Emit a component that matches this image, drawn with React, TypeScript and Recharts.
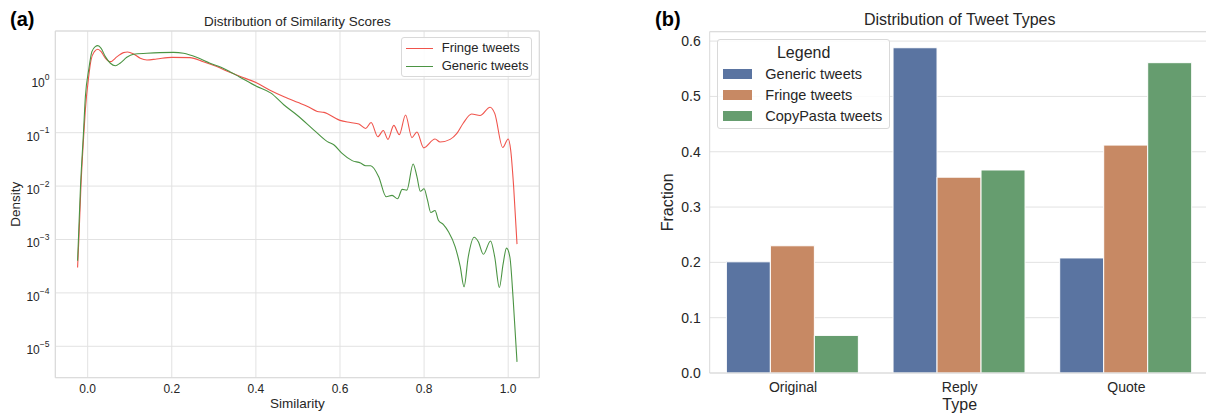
import React from "react";
import {
    LineChart,
    Line,
    BarChart,
    Bar,
    XAxis,
    YAxis,
    CartesianGrid,
    Legend,
    ReferenceLine,
} from "recharts";

const FONT = '"Liberation Sans", Arial, Helvetica, sans-serif';
const INK = "#262626";
const GRID = "#e2e2e2";
const SPINE = "#d9d9d9";

// (a) density of similarity scores
const fringeSimilarity = [
    -0.024, -0.021, -0.016, -0.009, -0.0055, 0.0024, 0.008, 0.016, 0.024, 0.032,
    0.042, 0.054, 0.07, 0.085, 0.095, 0.109, 0.125, 0.141, 0.164, 0.2,
    0.243, 0.275, 0.307, 0.338, 0.36, 0.4, 0.436, 0.467, 0.499, 0.523,
    0.546, 0.562, 0.6, 0.625, 0.645, 0.661, 0.674, 0.69, 0.703, 0.714,
    0.728, 0.741, 0.756, 0.771, 0.783, 0.799, 0.826, 0.838, 0.862, 0.878,
    0.893, 0.913, 0.933, 0.957, 0.968, 0.987, 1.0, 1.006, 1.013, 1.021,
];
const fringeDensity = [
    0.0003, 0.001, 0.01, 0.1, 0.27, 1.12, 2.3, 3.3, 3.66, 3.3,
    2.5, 2.14, 2.66, 3.16, 3.25, 2.99, 2.48, 2.3, 2.4, 2.58,
    2.55, 2.14, 1.73, 1.35, 1.15, 0.87, 0.61, 0.47, 0.37, 0.31,
    0.25, 0.24, 0.17, 0.155, 0.145, 0.12, 0.155, 0.084, 0.11, 0.075,
    0.137, 0.092, 0.215, 0.081, 0.103, 0.052, 0.076, 0.067, 0.075, 0.097,
    0.15, 0.224, 0.21, 0.3, 0.23, 0.053, 0.076, 0.047, 0.0097, 0.00082,
];

const genericSimilarity = [
    -0.024, -0.022, -0.017, -0.01, -0.0055, 0.0024, 0.01, 0.018, 0.024, 0.032,
    0.042, 0.054, 0.066, 0.077, 0.093, 0.109, 0.141, 0.172, 0.204, 0.228,
    0.259, 0.291, 0.317, 0.338, 0.36, 0.4, 0.436, 0.467, 0.499, 0.538,
    0.57, 0.586, 0.605, 0.629, 0.649, 0.661, 0.673, 0.692, 0.71, 0.724,
    0.737, 0.748, 0.759, 0.774, 0.783, 0.791, 0.8, 0.808, 0.816, 0.826,
    0.834, 0.846, 0.858, 0.874, 0.886, 0.895, 0.905, 0.919, 0.929, 0.941,
    0.958, 0.968, 0.979, 0.988, 0.996, 1.004, 1.012, 1.021,
];
const genericDensity = [
    0.0004, 0.001, 0.01, 0.1, 0.47, 1.5, 3.3, 4.1, 4.27, 3.8,
    2.66, 2.0, 1.8, 2.0, 2.58, 2.94, 3.07, 3.16, 3.2, 3.07,
    2.58, 2.0, 1.68, 1.39, 1.12, 0.75, 0.55, 0.33, 0.21, 0.112,
    0.068, 0.059, 0.041, 0.03, 0.027, 0.024, 0.024, 0.015, 0.0063, 0.0067,
    0.0058, 0.0087, 0.0084, 0.026, 0.015, 0.008, 0.0089, 0.0055, 0.0032, 0.0035,
    0.0023, 0.0019, 0.0014, 0.00073, 0.00031, 0.00013, 0.00047, 0.0011, 0.00091, 0.00053,
    0.00094, 0.00047, 0.000126, 0.00035, 0.00069, 0.00047, 0.000073, 0.0000051,
];

const similarityTicks = [0, 0.2, 0.4, 0.6, 0.8, 1.0];
const densityTicks = [1e-5, 1e-4, 1e-3, 1e-2, 1e-1, 1];
const similarityDomain = [-0.077, 1.074];
const densityDomain = [2.58e-6, 8.03];

const lineSeries = [
    { name: "Fringe tweets", color: "#f0544c" },
    { name: "Generic tweets", color: "#4b9443" },
];

// (b) tweet type fractions
const tweetTypes = ["Original", "Reply", "Quote"];
const genericFraction = [0.201, 0.588, 0.208];
const fringeFraction = [0.23, 0.354, 0.412];
const copyPastaFraction = [0.068, 0.367, 0.561];
const fractionTicks = [0, 0.1, 0.2, 0.3, 0.4, 0.5, 0.6];
const fractionMax = 0.617;

const barSeries = [
    { key: "generic", name: "Generic tweets", color: "#5a74a1" },
    { key: "fringe", name: "Fringe tweets", color: "#c78964" },
    { key: "copyPasta", name: "CopyPasta tweets", color: "#669d6f" },
];

const fringeData = fringeSimilarity.map((x, i) => ({ x, y: fringeDensity[i] }));
const genericData = genericSimilarity.map((x, i) => ({ x, y: genericDensity[i] }));

const typeRows = tweetTypes.map((type, i) => ({
    type,
    generic: genericFraction[i],
    fringe: fringeFraction[i],
    copyPasta: copyPastaFraction[i],
}));

function PowerTick({ x, y, payload }: any) {
    const exp = Math.round(Math.log10(payload.value));
    const sup = exp < 0 ? `\u2212${-exp}` : `${exp}`;
    return (
        <text x={x} y={y} textAnchor="end" fill={INK} fontSize={12} fontFamily={FONT}>
            <tspan dy={8}>10</tspan>
            <tspan dy={-7.3} fontSize={8.5}>
                {sup}
            </tspan>
        </text>
    );
}

const legendBox: React.CSSProperties = {
    position: "relative",
    boxSizing: "border-box",
    background: "rgba(255,255,255,0.85)",
    border: `1px solid ${SPINE}`,
    borderRadius: 3,
    fontFamily: FONT,
    color: INK,
    width: "100%",
    height: "100%",
};

function LineLegend() {
    return (
        <div style={legendBox}>
            {lineSeries.map((s, i) => (
                <div key={s.name}>
                    <div
                        style={{
                            position: "absolute",
                            left: 4,
                            top: 9.5 + i * 18,
                            width: 27,
                            height: 0,
                            borderTop: `1.3px solid ${s.color}`,
                        }}
                    />
                    <div
                        style={{
                            position: "absolute",
                            left: 40,
                            top: 2 + i * 18,
                            fontSize: 13,
                            lineHeight: "16px",
                            whiteSpace: "nowrap",
                        }}
                    >
                        {s.name}
                    </div>
                </div>
            ))}
        </div>
    );
}

function BarLegend() {
    return (
        <div style={legendBox}>
            <div
                style={{
                    position: "absolute",
                    left: 0,
                    width: "100%",
                    top: 3,
                    textAlign: "center",
                    fontSize: 16,
                    lineHeight: "19px",
                }}
            >
                Legend
            </div>
            {barSeries.map((s, i) => (
                <div key={s.key}>
                    <div
                        style={{
                            position: "absolute",
                            left: 5,
                            top: 28.5 + i * 21.4,
                            width: 29,
                            height: 10,
                            background: s.color,
                        }}
                    />
                    <div
                        style={{
                            position: "absolute",
                            left: 47,
                            top: 24.5 + i * 21.4,
                            fontSize: 14.5,
                            lineHeight: "18px",
                            whiteSpace: "nowrap",
                        }}
                    >
                        {s.name}
                    </div>
                </div>
            ))}
        </div>
    );
}

const panelLabel: React.CSSProperties = {
    position: "absolute",
    fontFamily: FONT,
    fontWeight: "bold",
    fontSize: 20,
    lineHeight: "20px",
    color: "#000",
};

const titleStyle: React.CSSProperties = {
    position: "absolute",
    fontFamily: FONT,
    color: INK,
    whiteSpace: "nowrap",
    transform: "translateX(-50%)",
};

export default function App() {
    return (
        <div
            style={{
                position: "absolute",
                left: 0,
                top: 0,
                width: 1206,
                height: 416,
                overflow: "hidden",
                background: "#fff",
                fontFamily: FONT,
            }}
        >
            <div style={{ ...panelLabel, left: 10, top: 9 }}>(a)</div>
            <div style={{ ...titleStyle, left: 297.3, top: 15, fontSize: 13.5, lineHeight: "13.5px" }}>
                Distribution of Similarity Scores
            </div>

            <div style={{ position: "absolute", left: 0, top: 0 }}>
                <LineChart
                    width={560}
                    height={416}
                    margin={{ top: 31, right: 20.7, bottom: 0, left: 0 }}
                >
                    <CartesianGrid stroke={GRID} />
                    <XAxis
                        dataKey="x"
                        type="number"
                        domain={similarityDomain}
                        ticks={similarityTicks}
                        allowDataOverflow
                        height={38.3}
                        tickSize={0}
                        tickMargin={6.3}
                        tickFormatter={(v: number) => v.toFixed(1)}
                        axisLine={{ stroke: SPINE }}
                        tick={{ fontSize: 12, fill: INK, fontFamily: FONT }}
                        label={{
                            value: "Similarity",
                            position: "insideBottom",
                            offset: 8.5,
                            fontSize: 13.5,
                            fill: INK,
                            fontFamily: FONT,
                        }}
                    />
                    <YAxis
                        type="number"
                        scale="log"
                        domain={densityDomain}
                        ticks={densityTicks}
                        allowDataOverflow
                        width={55.3}
                        tickSize={0}
                        tickMargin={5.8}
                        axisLine={{ stroke: SPINE }}
                        tick={<PowerTick />}
                        label={{
                            value: "Density",
                            angle: -90,
                            position: "insideLeft",
                            offset: 15,
                            fontSize: 13.5,
                            fill: INK,
                            fontFamily: FONT,
                            style: { textAnchor: "middle" },
                        }}
                    />
                    <ReferenceLine y={densityDomain[1]} stroke={SPINE} />
                    <ReferenceLine x={similarityDomain[1]} stroke={SPINE} />
                    <Line
                        data={fringeData}
                        dataKey="y"
                        name={lineSeries[0].name}
                        type="monotone"
                        stroke={lineSeries[0].color}
                        strokeWidth={1.1}
                        dot={false}
                        activeDot={false}
                        isAnimationActive={false}
                    />
                    <Line
                        data={genericData}
                        dataKey="y"
                        name={lineSeries[1].name}
                        type="monotone"
                        stroke={lineSeries[1].color}
                        strokeWidth={1.1}
                        dot={false}
                        activeDot={false}
                        isAnimationActive={false}
                    />
                    <Legend
                        layout="vertical"
                        align="center"
                        verticalAlign="middle"
                        content={<LineLegend />}
                        wrapperStyle={{ left: 400.7, top: 37.3, width: 131.6, height: 40 }}
                    />
                </LineChart>
            </div>

            <div style={{ ...panelLabel, left: 655, top: 9 }}>(b)</div>
            <div style={{ ...titleStyle, left: 959.7, top: 11.5, fontSize: 16, lineHeight: "16px" }}>
                Distribution of Tweet Types
            </div>

            <div style={{ position: "absolute", left: 600, top: 0 }}>
                <BarChart
                    width={612}
                    height={416}
                    data={typeRows}
                    margin={{ top: 31.7, right: 2.3, bottom: 0, left: 0 }}
                    barCategoryGap="10%"
                    barGap={0}
                >
                    <CartesianGrid vertical={false} stroke={GRID} />
                    <XAxis
                        dataKey="type"
                        height={43}
                        tickSize={0}
                        tickMargin={9.5}
                        axisLine={{ stroke: SPINE }}
                        tick={{ fontSize: 14, fill: INK, fontFamily: FONT }}
                        label={{
                            value: "Type",
                            position: "insideBottom",
                            offset: 6,
                            fontSize: 16,
                            fill: INK,
                            fontFamily: FONT,
                        }}
                    />
                    <YAxis
                        type="number"
                        domain={[0, fractionMax]}
                        ticks={fractionTicks}
                        allowDataOverflow
                        width={109.7}
                        tickSize={0}
                        tickMargin={9}
                        tickFormatter={(v: number) => v.toFixed(1)}
                        axisLine={{ stroke: SPINE }}
                        tick={{ fontSize: 14, fill: INK, fontFamily: FONT }}
                        label={{
                            value: "Fraction",
                            angle: -90,
                            position: "insideLeft",
                            offset: 67.6,
                            fontSize: 16,
                            fill: INK,
                            fontFamily: FONT,
                            style: { textAnchor: "middle" },
                        }}
                    />
                    <ReferenceLine y={fractionMax} stroke={SPINE} />
                    {barSeries.map((s) => (
                        <Bar
                            key={s.key}
                            dataKey={s.key}
                            name={s.name}
                            fill={s.color}
                            stroke="#ffffff"
                            strokeWidth={1}
                            isAnimationActive={false}
                        />
                    ))}
                    <Legend
                        layout="vertical"
                        align="center"
                        verticalAlign="middle"
                        content={<BarLegend />}
                        wrapperStyle={{ left: 117.3, top: 39, width: 172.7, height: 90 }}
                    />
                </BarChart>
            </div>
        </div>
    );
}
